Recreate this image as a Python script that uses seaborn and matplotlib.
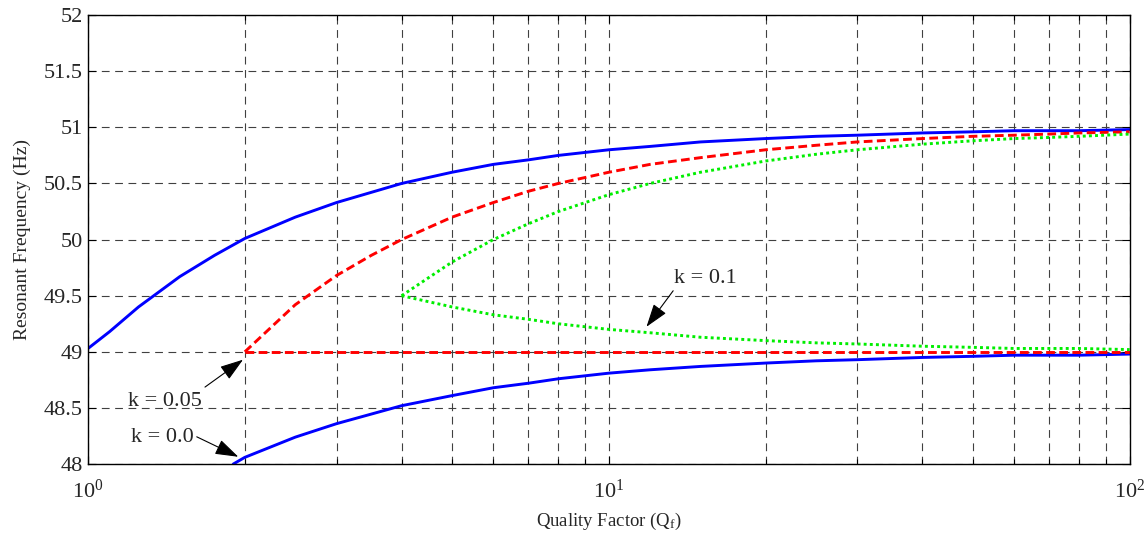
import matplotlib
matplotlib.use("Agg")
import matplotlib.pyplot as plt
import seaborn as sns
from matplotlib.ticker import LogLocator, FixedLocator

# ---- data ----
q_k0_up = [1, 1.1, 1.25, 1.5, 1.75, 2, 2.5, 3, 4, 5, 6, 7, 8, 10, 12, 15, 20, 25, 30, 40, 50, 60, 70, 80, 100]
f_k0_up = [49.03, 49.18, 49.40, 49.67, 49.86, 50.01, 50.20, 50.33, 50.50, 50.60, 50.67, 50.71, 50.75, 50.80,
           50.83, 50.87, 50.90, 50.92, 50.93, 50.95, 50.96, 50.97, 50.97, 50.97, 50.98]
q_k0_lo = [1.9, 2, 2.5, 3, 4, 5, 6, 7, 8, 10, 12, 15, 20, 25, 30, 40, 50, 60, 70, 80, 100]
f_k0_lo = [48.0, 48.06, 48.24, 48.36, 48.52, 48.61, 48.68, 48.72, 48.76, 48.81, 48.84, 48.87, 48.90,
           48.92, 48.93, 48.95, 48.96, 48.97, 48.97, 48.97, 48.98]
q_k05_up = [2, 2.5, 3, 3.5, 4, 5, 6, 7, 8, 10, 12, 15, 20, 25, 30, 40, 50, 60, 70, 80, 100]
f_k05_up = [49.0, 49.42, 49.68, 49.86, 50.0, 50.2, 50.33, 50.43, 50.5, 50.6, 50.67, 50.73, 50.8,
            50.84, 50.87, 50.9, 50.92, 50.93, 50.94, 50.95, 50.96]
q_k05_lo = [2, 10, 100]
f_k05_lo = [49.0, 49.0, 49.0]
q_k1_up = [4, 5, 6, 7, 8, 10, 12, 15, 20, 25, 30, 40, 50, 60, 70, 80, 100]
f_k1_up = [49.5, 49.8, 50.0, 50.14, 50.25, 50.4, 50.5, 50.6, 50.7, 50.76, 50.8, 50.85, 50.88,
           50.9, 50.91, 50.92, 50.94]
q_k1_lo = [4, 5, 6, 7, 8, 10, 12, 15, 20, 25, 30, 40, 50, 60, 70, 80, 100]
f_k1_lo = [49.5, 49.4, 49.33, 49.29, 49.25, 49.2, 49.17, 49.13, 49.1, 49.08, 49.07, 49.05, 49.04,
           49.03, 49.03, 49.03, 49.02]

y_ticks = [48, 48.5, 49, 49.5, 50, 50.5, 51, 51.5, 52]
y_tick_labels = ["48", "48.5", "49", "49.5", "50", "50.5", "51", "51.5", "52"]
x_label = "Quality Factor (Q$_{f}$)"
y_label = "Resonant Frequency (Hz)"

sns.set_theme(style="white")
plt.rcParams["font.family"] = ["Liberation Serif", "DejaVu Serif"]
plt.rcParams["mathtext.fontset"] = "custom"
plt.rcParams["mathtext.rm"] = "Liberation Serif"
plt.rcParams["mathtext.it"] = "Liberation Serif"
plt.rcParams["mathtext.default"] = "regular"

fig = plt.figure(figsize=(11.48, 5.39), dpi=100)
ax = fig.add_axes([0.0767, 0.139, 0.9073, 0.833])

blue, red, green = "#0000ff", "#ff0000", "#00ee00"
dash, dot = (0, (3, 1.5)), (0, (1, 1.1))
sns.lineplot(x=q_k0_up, y=f_k0_up, ax=ax, color=blue, lw=2.1, sort=False)
sns.lineplot(x=q_k0_lo, y=f_k0_lo, ax=ax, color=blue, lw=2.1, sort=False)
sns.lineplot(x=q_k05_up, y=f_k05_up, ax=ax, color=red, lw=2.1, linestyle=dash, sort=False)
sns.lineplot(x=q_k05_lo, y=f_k05_lo, ax=ax, color=red, lw=2.1, linestyle=dash, sort=False)
sns.lineplot(x=q_k1_up, y=f_k1_up, ax=ax, color=green, lw=2.1, linestyle=dot, sort=False)
sns.lineplot(x=q_k1_lo, y=f_k1_lo, ax=ax, color=green, lw=2.1, linestyle=dot, sort=False)

ax.set_xscale("log")
ax.set_xlim(1, 100)
ax.set_ylim(48, 52)
ax.yaxis.set_major_locator(FixedLocator(y_ticks))
ax.set_yticklabels(y_tick_labels)
ax.xaxis.set_minor_locator(LogLocator(base=10, subs=range(2, 10)))

grid_kw = dict(color="0.25", lw=0.8, linestyle=(0, (7, 5)))
ax.grid(True, which="major", axis="both", **grid_kw)
ax.grid(True, which="minor", axis="x", **grid_kw)
ax.set_axisbelow(True)

ax.tick_params(which="both", direction="in", top=True, right=True, bottom=True, left=True,
               labelsize=16, color="black")
ax.tick_params(which="major", length=6, width=0.8)
ax.tick_params(which="minor", length=3.5, width=0.8)
ax.tick_params(axis="x", pad=11)
ax.tick_params(axis="y", pad=4)
for s in ax.spines.values():
    s.set_color("black")
    s.set_linewidth(1.0)

ax.set_xlabel(x_label, fontsize=13.5, labelpad=6)
ax.set_ylabel(y_label, fontsize=14)
ax.yaxis.set_label_coords(-0.055, 0.5)

arrow_kw = dict(arrowstyle="-|>,head_length=0.9,head_width=0.3", color="black", lw=0.8,
                shrinkA=0, shrinkB=0, mutation_scale=16)
ax.text(1.405, 48.56, "k = 0.05", fontsize=16, ha="center", va="center")
ax.annotate("", xy=(1.984, 48.93), xytext=(1.677, 48.686), arrowprops=arrow_kw)
ax.text(1.387, 48.24, "k = 0.0", fontsize=16, ha="center", va="center")
ax.annotate("", xy=(1.943, 48.065), xytext=(1.617, 48.243), arrowprops=arrow_kw)
ax.text(15.3, 49.65, "k = 0.1", fontsize=16, ha="center", va="center")
ax.annotate("", xy=(11.81, 49.223), xytext=(13.29, 49.544), arrowprops=arrow_kw)

fig.savefig("out.png", dpi=100, facecolor="white")
